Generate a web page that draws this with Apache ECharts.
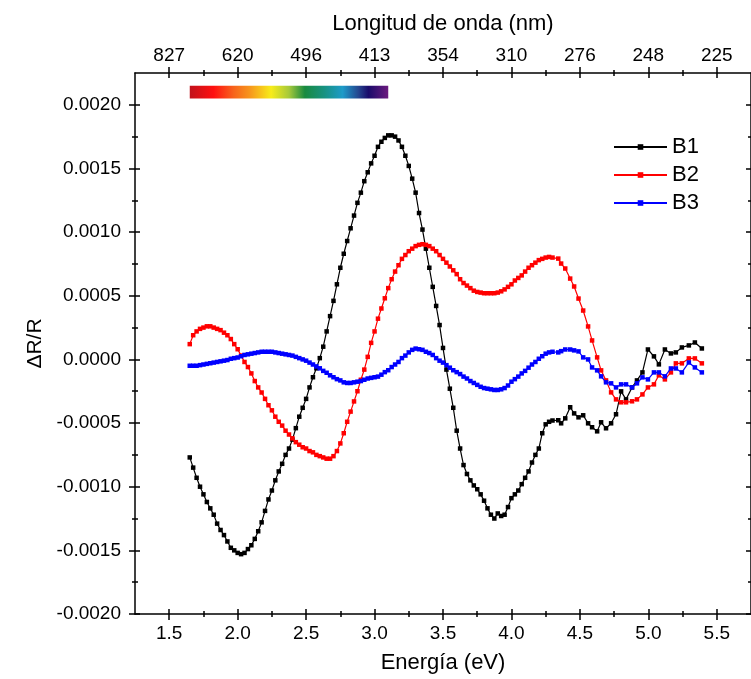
<!DOCTYPE html>
<html><head><meta charset="utf-8">
<script src="https://cdn.jsdelivr.net/npm/echarts@6/dist/echarts.min.js"></script>
<style>html,body{margin:0;padding:0;background:#fff}#c{width:751px;height:679px}</style>
</head><body><div id="c"></div>
<script>
// Energy (eV)
const energy = [
1.65,1.675,1.7,1.725,1.75,1.775,1.8,1.825,1.85,1.875,
1.9,1.925,1.95,1.975,2.0,2.025,2.05,2.075,2.1,2.125,
2.15,2.175,2.2,2.225,2.25,2.275,2.3,2.325,2.35,2.375,
2.4,2.425,2.45,2.475,2.5,2.525,2.55,2.575,2.6,2.625,
2.65,2.675,2.7,2.725,2.75,2.775,2.8,2.825,2.85,2.875,
2.9,2.925,2.95,2.975,3.0,3.025,3.05,3.075,3.1,3.125,
3.15,3.175,3.2,3.225,3.25,3.275,3.3,3.325,3.35,3.375,
3.4,3.425,3.45,3.475,3.5,3.525,3.55,3.575,3.6,3.625,
3.65,3.675,3.7,3.725,3.75,3.775,3.8,3.825,3.85,3.875,
3.9,3.925,3.95,3.975,4.0,4.025,4.05,4.075,4.1,4.125,
4.15,4.175,4.2,4.225,4.25,4.275,4.3,
4.342,4.363,4.393,4.429,4.458,4.49,4.524,4.56,4.589,4.626,
4.655,4.691,4.728,4.764,4.801,4.837,4.881,4.917,4.957,4.997,
5.041,5.077,5.121,5.165,5.201,5.245,5.296,5.34,5.391];

// ΔR/R values
const b1 = [
-7.7e-4,-8.5e-4,-9.3e-4,-10.0e-4,-10.6e-4,-11.2e-4,-11.7e-4,-12.2e-4,-12.9e-4,-13.4e-4,
-13.8e-4,-14.3e-4,-14.8e-4,-15.0e-4,-15.2e-4,-15.3e-4,-15.2e-4,-14.9e-4,-14.6e-4,-14.1e-4,
-13.5e-4,-12.8e-4,-11.9e-4,-11.0e-4,-10.3e-4,-9.5e-4,-8.8e-4,-8.2e-4,-7.5e-4,-7.0e-4,
-6.3e-4,-5.4e-4,-4.5e-4,-3.8e-4,-3.1e-4,-2.2e-4,-1.4e-4,-0.7e-4,0.1e-4,1.0e-4,
2.2e-4,3.4e-4,4.6e-4,5.9e-4,7.2e-4,8.3e-4,9.3e-4,10.3e-4,11.3e-4,12.3e-4,
13.1e-4,14.0e-4,14.7e-4,15.4e-4,16.0e-4,16.7e-4,17.1e-4,17.4e-4,17.6e-4,17.6e-4,
17.5e-4,17.2e-4,16.7e-4,16.0e-4,15.2e-4,14.2e-4,13.1e-4,11.5e-4,10.2e-4,8.7e-4,
7.2e-4,5.7e-4,4.2e-4,2.7e-4,0.9e-4,-0.8e-4,-2.3e-4,-3.8e-4,-5.6e-4,-7.0e-4,
-8.3e-4,-9.0e-4,-9.5e-4,-9.9e-4,-10.2e-4,-10.6e-4,-11.1e-4,-11.7e-4,-12.2e-4,-12.5e-4,
-12.1e-4,-12.3e-4,-12.2e-4,-11.6e-4,-10.9e-4,-10.6e-4,-10.3e-4,-9.8e-4,-9.3e-4,-8.8e-4,
-8.1e-4,-7.5e-4,-7.0e-4,-5.8e-4,-5.1e-4,-4.9e-4,-4.8e-4,
-4.78e-4,-5.02e-4,-4.63e-4,-3.76e-4,-4.24e-4,-4.55e-4,-4.39e-4,-5.02e-4,-5.33e-4,-5.65e-4,
-4.94e-4,-5.41e-4,-5.02e-4,-4.31e-4,-2.51e-4,-3.14e-4,-2.2e-4,-1.65e-4,-1.02e-4,0.78e-4,
0.24e-4,-0.39e-4,0.78e-4,0.47e-4,0.55e-4,0.94e-4,1.1e-4,1.33e-4,0.86e-4];

const b2 = [
1.2e-4,1.9e-4,2.2e-4,2.4e-4,2.5e-4,2.6e-4,2.6e-4,2.5e-4,2.4e-4,2.3e-4,
2.1e-4,1.9e-4,1.6e-4,1.2e-4,0.8e-4,0.3e-4,-0.2e-4,-0.6e-4,-1.1e-4,-1.7e-4,
-2.2e-4,-2.6e-4,-3.1e-4,-3.6e-4,-4.0e-4,-4.5e-4,-4.9e-4,-5.2e-4,-5.6e-4,-5.9e-4,
-6.2e-4,-6.5e-4,-6.7e-4,-6.9e-4,-7.0e-4,-7.2e-4,-7.3e-4,-7.5e-4,-7.6e-4,-7.7e-4,
-7.8e-4,-7.8e-4,-7.6e-4,-7.2e-4,-6.6e-4,-5.8e-4,-4.9e-4,-4.1e-4,-3.3e-4,-2.5e-4,
-1.6e-4,-0.8e-4,0.2e-4,1.3e-4,2.2e-4,3.2e-4,4.0e-4,4.8e-4,5.6e-4,6.3e-4,
6.9e-4,7.4e-4,7.9e-4,8.2e-4,8.5e-4,8.7e-4,8.9e-4,9.0e-4,9.05e-4,9.0e-4,
8.9e-4,8.7e-4,8.5e-4,8.2e-4,7.9e-4,7.6e-4,7.3e-4,7.0e-4,6.7e-4,6.3e-4,
6.0e-4,5.8e-4,5.6e-4,5.4e-4,5.3e-4,5.25e-4,5.2e-4,5.2e-4,5.2e-4,5.2e-4,
5.25e-4,5.35e-4,5.5e-4,5.7e-4,5.9e-4,6.2e-4,6.4e-4,6.6e-4,6.9e-4,7.2e-4,
7.4e-4,7.6e-4,7.8e-4,7.9e-4,8.0e-4,8.05e-4,8.0e-4,
7.92e-4,7.53e-4,7.14e-4,6.35e-4,5.73e-4,4.78e-4,3.84e-4,2.59e-4,1.49e-4,0.16e-4,
-0.86e-4,-1.65e-4,-2.59e-4,-3.14e-4,-3.37e-4,-3.37e-4,-3.29e-4,-3.14e-4,-2.75e-4,-2.2e-4,
-1.96e-4,-1.25e-4,-1.57e-4,-1.02e-4,-0.31e-4,-0.31e-4,0.08e-4,0.08e-4,-0.31e-4];

const b3 = [
-0.5e-4,-0.5e-4,-0.5e-4,-0.45e-4,-0.4e-4,-0.35e-4,-0.3e-4,-0.25e-4,-0.2e-4,-0.15e-4,
-0.1e-4,-0.05e-4,0.05e-4,0.1e-4,0.15e-4,0.25e-4,0.35e-4,0.4e-4,0.45e-4,0.5e-4,
0.55e-4,0.6e-4,0.6e-4,0.6e-4,0.6e-4,0.55e-4,0.5e-4,0.45e-4,0.4e-4,0.35e-4,
0.3e-4,0.2e-4,0.1e-4,0.0,-0.1e-4,-0.25e-4,-0.4e-4,-0.55e-4,-0.7e-4,-0.9e-4,
-1.05e-4,-1.25e-4,-1.4e-4,-1.55e-4,-1.65e-4,-1.8e-4,-1.85e-4,-1.85e-4,-1.8e-4,-1.75e-4,
-1.7e-4,-1.6e-4,-1.5e-4,-1.45e-4,-1.4e-4,-1.35e-4,-1.2e-4,-1.0e-4,-0.85e-4,-0.6e-4,
-0.4e-4,-0.2e-4,0.1e-4,0.3e-4,0.55e-4,0.75e-4,0.85e-4,0.8e-4,0.75e-4,0.6e-4,
0.5e-4,0.35e-4,0.1e-4,-0.1e-4,-0.25e-4,-0.45e-4,-0.65e-4,-0.85e-4,-1.0e-4,-1.15e-4,
-1.35e-4,-1.5e-4,-1.7e-4,-1.85e-4,-2.0e-4,-2.15e-4,-2.25e-4,-2.3e-4,-2.35e-4,-2.4e-4,
-2.4e-4,-2.35e-4,-2.25e-4,-2.05e-4,-1.75e-4,-1.55e-4,-1.35e-4,-1.1e-4,-0.9e-4,-0.65e-4,
-0.4e-4,-0.2e-4,0.05e-4,0.25e-4,0.45e-4,0.55e-4,0.6e-4,
0.55e-4,0.65e-4,0.78e-4,0.78e-4,0.71e-4,0.63e-4,0.16e-4,0.0,-0.63e-4,-0.86e-4,
-1.33e-4,-1.8e-4,-1.88e-4,-2.2e-4,-1.96e-4,-1.96e-4,-2.2e-4,-1.88e-4,-1.41e-4,-1.57e-4,
-1.02e-4,-1.02e-4,-1.33e-4,-0.71e-4,-0.71e-4,-1.02e-4,-0.24e-4,-0.63e-4,-1.02e-4];

const seriesNames = ['B1', 'B2', 'B3'];
const seriesColors = ['#000000', '#ff0000', '#0000ff'];
const energyTicks = [1.5, 2.0, 2.5, 3.0, 3.5, 4.0, 4.5, 5.0, 5.5];
const energyMinorTicks = [1.75, 2.25, 2.75, 3.25, 3.75, 4.25, 4.75, 5.25];
const wavelengthLabels = ['827', '620', '496', '413', '354', '310', '276', '248', '225'];
const yTicks = [-0.002, -0.0015, -0.001, -0.0005, 0, 0.0005, 0.001, 0.0015, 0.002];
const yMinorTicks = [-0.00175, -0.00125, -0.00075, -0.00025, 0.00025, 0.00075, 0.00125, 0.00175];
// visible spectrum bar (eV range)
const spectrumRange = [1.65, 3.1];

const FONT = '"Liberation Sans", Arial, sans-serif';
const X_MIN = 1.25, X_MAX = 5.75, Y_MIN = -0.002, Y_MAX = 0.00225;
const black = '#000';

const chart = echarts.init(document.getElementById('c'), null, {renderer: 'canvas'});

const gridRect = {left: 135, top: 73, right: -2, bottom: 65};
const grids = [];
const xAxes = [];
const yAxes = [];

function tickSpec(values, len, inside) {
  return {show: true, customValues: values, length: len, inside: inside, lineStyle: {color: black, width: 1.5}};
}
const variants = [
  [energyTicks, yTicks, 6, false],
  [energyTicks, yTicks, 5, true],
  [energyMinorTicks, yMinorTicks, 3, false],
  [energyMinorTicks, yMinorTicks, 3, true]
];
variants.forEach((v, gi) => {
  grids.push(Object.assign({}, gridRect, {containLabel: false}));
  const main = gi === 0;
  xAxes.push({
    type: 'value', gridIndex: gi, position: 'bottom', min: X_MIN, max: X_MAX,
    splitLine: {show: false},
    axisLine: {show: main, onZero: false, lineStyle: {color: black, width: 1.5}},
    axisTick: tickSpec(v[0], v[2], v[3]),
    axisLabel: main ? {show: true, customValues: energyTicks, margin: 10, fontSize: 19, color: black, fontFamily: FONT,
      formatter: (val) => val.toFixed(1)} : {show: false},
    name: main ? 'Energía (eV)' : '', nameLocation: 'middle', nameGap: 38,
    nameTextStyle: {fontSize: 22, color: black, fontFamily: FONT}
  });
  xAxes.push({
    type: 'value', gridIndex: gi, position: 'top', min: X_MIN, max: X_MAX,
    splitLine: {show: false},
    axisLine: {show: main, onZero: false, lineStyle: {color: black, width: 1.5}},
    axisTick: tickSpec(v[0], v[2], v[3]),
    axisLabel: main ? {show: true, customValues: energyTicks, margin: 8, fontSize: 19, color: black, fontFamily: FONT,
      formatter: (val) => {
        const i = energyTicks.findIndex(t => Math.abs(t - val) < 1e-6);
        return i >= 0 ? wavelengthLabels[i] : '';
      }} : {show: false},
    name: main ? 'Longitud de onda (nm)' : '', nameLocation: 'middle', nameGap: 38,
    nameTextStyle: {fontSize: 22, color: black, fontFamily: FONT}
  });
  yAxes.push({
    type: 'value', gridIndex: gi, position: 'left', min: Y_MIN, max: Y_MAX,
    splitLine: {show: false},
    axisLine: {show: main, onZero: false, lineStyle: {color: black, width: 1.5}},
    axisTick: tickSpec(v[1], v[2], v[3]),
    axisLabel: main ? {show: true, customValues: yTicks, margin: 14, fontSize: 19, color: black, fontFamily: FONT,
      formatter: (val) => val.toFixed(4)} : {show: false},
    name: main ? 'ΔR/R' : '', nameLocation: 'middle', nameGap: 89, nameRotate: 90,
    nameTextStyle: {fontSize: 21, color: black, fontFamily: FONT}
  });
  yAxes.push({
    type: 'value', gridIndex: gi, position: 'right', min: Y_MIN, max: Y_MAX,
    splitLine: {show: false},
    axisLine: {show: main, onZero: false, lineStyle: {color: black, width: 1.5}},
    axisTick: (gi === 1 || gi === 3) ? tickSpec(v[1], v[2], true) : {show: false},
    axisLabel: {show: false}
  });
});

const spectrumStops = [
  {offset: 0, color: '#c1121b'}, {offset: 0.12, color: '#ff1010'}, {offset: 0.22, color: '#f7631c'},
  {offset: 0.3, color: '#f7941d'}, {offset: 0.41, color: '#f7ec1a'}, {offset: 0.5, color: '#a6c93b'},
  {offset: 0.58, color: '#188a3f'}, {offset: 0.68, color: '#179283'}, {offset: 0.77, color: '#1d9bc9'},
  {offset: 0.85, color: '#25468f'}, {offset: 0.9, color: '#1a0b6b'}, {offset: 1, color: '#6c1a7e'}
];

const dataSets = [b1, b2, b3];
const series = dataSets.map((arr, i) => {
  const s = {
    name: seriesNames[i], type: 'line', xAxisIndex: 0, yAxisIndex: 0,
    data: energy.map((e, k) => [e, arr[k]]),
    symbol: 'rect', symbolSize: 4.5, showSymbol: true,
    itemStyle: {color: seriesColors[i]},
    lineStyle: {color: seriesColors[i], width: 1.2},
    emphasis: {disabled: true}, z: 3 + i
  };
  if (i === 0) {
    s.markArea = {
      silent: true,
      itemStyle: {color: new echarts.graphic.LinearGradient(0, 0, 1, 0, spectrumStops), borderWidth: 0},
      data: [[{coord: [spectrumRange[0], 0.00215]}, {coord: [spectrumRange[1], 0.00205]}]]
    };
  }
  return s;
});

chart.setOption({
  animation: false,
  backgroundColor: '#fff',
  grid: grids,
  xAxis: xAxes,
  yAxis: yAxes,
  legend: {
    orient: 'vertical', left: 608, top: 131,
    itemWidth: 53, itemHeight: 7, itemGap: 6,
    data: seriesNames,
    textStyle: {fontSize: 22, color: black, fontFamily: FONT}
  },
  series: series
});
</script>
</body></html>
